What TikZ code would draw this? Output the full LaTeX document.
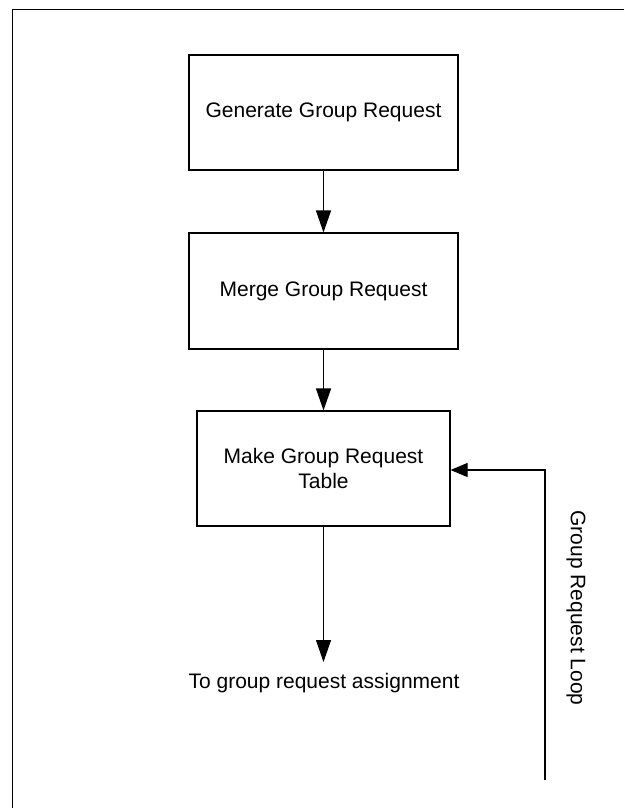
\documentclass[tikz,border=0pt]{standalone}
\usepackage{fontspec}
\setmainfont{Liberation Sans}
\usetikzlibrary{arrows.meta}
\begin{document}
\begin{tikzpicture}[x=1pt,y=-1pt,
  every node/.style={font=\fontsize{21}{25}\selectfont},
  procbox/.style={draw,line width=1.1pt,inner sep=0pt,align=center},
  flow/.style={line width=1.1pt,-{Triangle[length=22pt,width=15pt]}},
  loopflow/.style={line width=1.1pt,-{Triangle[length=17pt,width=14pt]}}]
  \useasboundingbox (0,0) rectangle (624,808);
  % outer frame, open at the right and bottom
  \coordinate (frTR) at (624,10);
  \coordinate (frTL) at (12,10);
  \coordinate (frBL) at (12,808);
  \draw[line width=1pt] (frTR) -- (frTL) -- (frBL);
  % process boxes
  \node[procbox,minimum width=269pt,minimum height=115pt] (gen) at (323.5,112.5) {};
  \node at (323.5,112.5) {Generate Group Request};
  \node[procbox,minimum width=269pt,minimum height=116pt] (merge) at (323.5,291) {Merge Group Request};
  \node[procbox,minimum width=253pt,minimum height=115pt] (table) at (323.5,468.5) {Make Group Request\\Table};
  % output label
  \node (out) at (324,683) {To group request assignment};
  \coordinate (outtip) at (323.5,662);
  % loop line
  \coordinate (loopbot) at (545,780);
  \coordinate (loopcorner) at (545,470);
  \node[rotate=-90] (looplbl) at (576,608) {Group Request Loop};
  % connectors
  \draw[flow] (gen.south) -- (merge.north);
  \draw[flow] (merge.south) -- (table.north);
  \draw[flow] (table.south) -- (outtip);
  \draw[loopflow] (loopbot) -- (loopcorner) -- (table.east |- loopcorner);
\end{tikzpicture}
\end{document}
